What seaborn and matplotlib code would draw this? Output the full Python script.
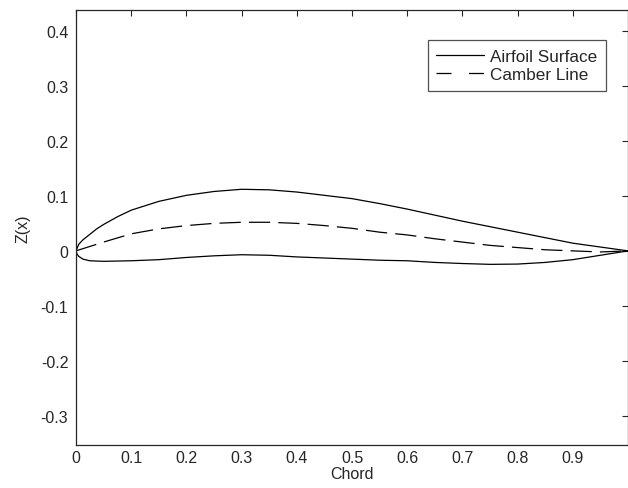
import matplotlib
matplotlib.use('Agg')
import matplotlib.pyplot as plt
import seaborn as sns
import pandas as pd

# values
x_upper = [0, 0.005, 0.0125, 0.025, 0.0375, 0.05, 0.075, 0.1, 0.15, 0.2, 0.25, 0.3, 0.35, 0.4,
           0.45, 0.5, 0.55, 0.6, 0.65, 0.7, 0.75, 0.8, 0.85, 0.9, 0.95, 1.0]
z_upper = [0, 0.012, 0.020, 0.030, 0.040, 0.048, 0.062, 0.074, 0.090, 0.101, 0.108, 0.112, 0.111, 0.107,
           0.101, 0.095, 0.086, 0.076, 0.065, 0.054, 0.044, 0.034, 0.024, 0.014, 0.007, 0]

x_lower = [0, 0.002, 0.005, 0.0125, 0.025, 0.05, 0.1, 0.15, 0.2, 0.25, 0.3, 0.35, 0.4,
           0.45, 0.5, 0.55, 0.6, 0.65, 0.7, 0.75, 0.8, 0.85, 0.9, 0.95, 1.0]
z_lower = [0, -0.006, -0.010, -0.015, -0.018, -0.019, -0.018, -0.016, -0.012, -0.009, -0.007, -0.008, -0.011,
           -0.013, -0.015, -0.017, -0.018, -0.021, -0.023, -0.0245, -0.024, -0.021, -0.016, -0.008, 0]

x_camber = [0, 0.025, 0.05, 0.1, 0.15, 0.2, 0.25, 0.3, 0.35, 0.4, 0.45, 0.5, 0.55,
            0.6, 0.65, 0.7, 0.75, 0.8, 0.85, 0.9, 0.95, 1.0]
z_camber = [0, 0.008, 0.016, 0.031, 0.040, 0.046, 0.050, 0.052, 0.052, 0.050, 0.046, 0.041, 0.034,
            0.029, 0.022, 0.016, 0.010, 0.006, 0.002, 0.000, -0.002, 0]

x_ticks = [0, 0.1, 0.2, 0.3, 0.4, 0.5, 0.6, 0.7, 0.8, 0.9]
x_ticklabels = ['0', '0.1', '0.2', '0.3', '0.4', '0.5', '0.6', '0.7', '0.8', '0.9']
y_ticks = [-0.3, -0.2, -0.1, 0, 0.1, 0.2, 0.3, 0.4]
y_ticklabels = ['-0.3', '-0.2', '-0.1', '0', '0.1', '0.2', '0.3', '0.4']

surface = pd.DataFrame({
    'x': x_upper[::-1] + x_lower[1:],
    'z': z_upper[::-1] + z_lower[1:],
})
camber = pd.DataFrame({'x': x_camber, 'z': z_camber})

sns.set_style('white')
plt.rcParams['font.family'] = ['Liberation Sans', 'DejaVu Sans']

fig = plt.figure(figsize=(6.28, 4.89), dpi=100)
ax = fig.add_axes([76 / 628, 43 / 489, 552 / 628, 435 / 489])

sns.lineplot(data=surface, x='x', y='z', sort=False, estimator=None, ax=ax,
             color='black', linewidth=0.9, label='Airfoil Surface')
sns.lineplot(data=camber, x='x', y='z', sort=False, estimator=None, ax=ax,
             color='black', linewidth=0.9, label='Camber Line')
ax.lines[1].set_dashes((17, 6.5))

ax.set_xlim(0, 1.0)
ax.set_ylim(-0.353, 0.438)
ax.set_xticks(x_ticks)
ax.set_xticklabels(x_ticklabels)
ax.set_yticks(y_ticks)
ax.set_yticklabels(y_ticklabels)
ax.tick_params(direction='in', top=True, right=True, length=4, width=0.8,
               labelsize=11.5, colors='#262626')
ax.tick_params(axis='x', pad=3.5)
ax.tick_params(axis='y', pad=5.5)
for s in ax.spines.values():
    s.set_color('#262626')
    s.set_linewidth(0.9)

ax.set_xlabel('Chord', fontsize=11.5, color='#262626', labelpad=0.5)
ax.set_ylabel('Z(x)', fontsize=11.5, color='#262626', labelpad=7.5)

leg = ax.legend(loc='upper right', bbox_to_anchor=(0.96, 0.931), borderaxespad=0,
                fontsize=12.3, frameon=True, fancybox=False, handlelength=2.8,
                handletextpad=0.35, edgecolor='#262626', borderpad=0.5, labelspacing=0.22)
leg.get_frame().set_linewidth(0.9)
leg.legend_handles[1].set_dashes((12, 14))

fig.savefig('out.png', dpi=100)
